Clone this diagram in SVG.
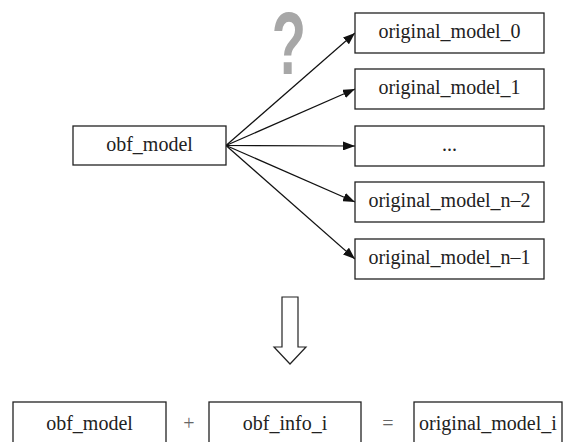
<svg xmlns="http://www.w3.org/2000/svg" width="566" height="442" viewBox="0 0 566 442">
  <defs>
    <marker id="head" markerWidth="12" markerHeight="9" refX="12" refY="4.5" orient="auto" markerUnits="userSpaceOnUse">
      <path d="M0,0 L12,4.5 L0,9 Z" fill="#111"/>
    </marker>
    <style>
      .box { fill: #fff; stroke: #222; stroke-width: 1.3; }
      .lbl { font-family: 'Liberation Serif', 'Times New Roman', Times, 'DejaVu Serif', serif; font-size: 20px; fill: #222; text-anchor: middle; }
      .op { font-family: 'Liberation Serif', 'Times New Roman', Times, 'DejaVu Serif', serif; font-size: 20px; fill: #666; text-anchor: middle; }
      .edge { stroke: #111; stroke-width: 1.2; fill: none; marker-end: url(#head); }
    </style>
  </defs>

  <rect width="566" height="442" fill="#fff"/>

  <!-- question mark above the fan-out -->
  <text transform="translate(289,74) scale(0.63,1)" font-family="'Liberation Sans', Arial, sans-serif" font-weight="bold" font-size="89" fill="#a7a7a7" text-anchor="middle">?</text>

  <g id="connectors">
    <line class="edge" x1="226" y1="145.5" x2="355" y2="33"/>
    <line class="edge" x1="226" y1="145.5" x2="355" y2="89"/>
    <line class="edge" x1="226" y1="145.5" x2="355" y2="146"/>
    <line class="edge" x1="226" y1="145.5" x2="355" y2="202"/>
    <line class="edge" x1="226" y1="145.5" x2="355" y2="259"/>
  </g>

  <g id="obf_model">
    <rect class="box" x="73" y="126" width="153" height="39"/>
    <text class="lbl" x="149.5" y="151">obf_model</text>
  </g>

  <g id="original_model_0">
    <rect class="box" x="355" y="13" width="189" height="40"/>
    <text class="lbl" x="449.5" y="38">original_model_0</text>
  </g>
  <g id="original_model_1">
    <rect class="box" x="355" y="69" width="189" height="40"/>
    <text class="lbl" x="449.5" y="94">original_model_1</text>
  </g>
  <g id="original_model_dots">
    <rect class="box" x="355" y="126" width="189" height="40"/>
    <text class="lbl" x="449.5" y="151">...</text>
  </g>
  <g id="original_model_n-2">
    <rect class="box" x="355" y="182" width="189" height="40"/>
    <text class="lbl" x="449.5" y="207">original_model_n–2</text>
  </g>
  <g id="original_model_n-1">
    <rect class="box" x="355" y="239" width="189" height="40"/>
    <text class="lbl" x="449.5" y="264">original_model_n–1</text>
  </g>

  <!-- hollow down arrow -->
  <g id="derive_arrow">
    <polygon points="282,297 298,297 298,347 306,347 290,364 274,347 282,347" fill="#fff" stroke="#222" stroke-width="1.2"/>
  </g>

  <g id="bottom_obf_model">
    <rect class="box" x="13" y="402" width="153" height="46"/>
    <text class="lbl" x="89.5" y="430">obf_model</text>
  </g>
  <text class="op" x="189" y="430">+</text>
  <g id="obf_info_i">
    <rect class="box" x="209" y="402" width="152" height="46"/>
    <text class="lbl" x="285" y="430">obf_info_i</text>
  </g>
  <text class="op" x="388" y="430">=</text>
  <g id="original_model_i">
    <rect class="box" x="414" y="402" width="148" height="46"/>
    <text class="lbl" x="488" y="430">original_model_i</text>
  </g>
</svg>
